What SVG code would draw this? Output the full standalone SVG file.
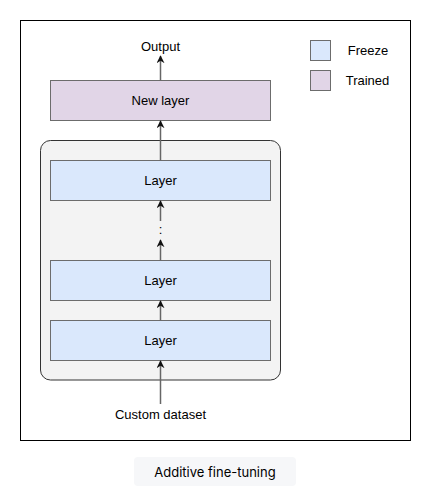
<svg xmlns="http://www.w3.org/2000/svg" width="428" height="500" viewBox="0 0 428 500">
<style>
text{font-family:"Liberation Sans",Arial,sans-serif;font-size:13px;fill:#000;text-anchor:middle;dominant-baseline:central}
.layer{fill:#dae8fc;stroke:#6c6c6c;stroke-width:1}
.trained{fill:#e1d5e7;stroke:#6c6c6c;stroke-width:1}
.edge{stroke:#666;stroke-width:1.5;fill:none;marker-end:url(#arr)}
</style>
<defs>
<marker id="arr" viewBox="0 0 10 10" refX="9" refY="5" markerWidth="8" markerHeight="8" markerUnits="userSpaceOnUse" orient="auto">
<path d="M0,0 L10,5 L0,10 L3,5 Z" fill="#111"/>
</marker>
</defs>
<rect x="0" y="0" width="428" height="500" fill="#fff"/>
<rect id="frame" x="20.5" y="20.5" width="390" height="420" fill="#fff" stroke="#000" stroke-width="1"/>
<g id="container"><rect x="40.5" y="140.5" width="240" height="239.5" rx="10" fill="#f3f3f3" stroke="#333" stroke-width="1"/></g>
<g id="new-layer"><rect class="trained" x="50.5" y="80.5" width="220" height="40"/><text x="160.5" y="100.5" font-size="11">New layer</text></g>
<g id="layer-top"><rect class="layer" x="50.5" y="160.5" width="220" height="40"/><text x="160.5" y="180.5" font-size="11">Layer</text></g>
<g id="layer-mid"><rect class="layer" x="50.5" y="260.5" width="220" height="40"/><text x="160.5" y="280.5" font-size="11">Layer</text></g>
<g id="layer-bot"><rect class="layer" x="50.5" y="320.5" width="220" height="40"/><text x="160.5" y="340.5" font-size="11">Layer</text></g>
<g id="output"><text x="160.5" y="46">Output</text></g>
<g id="dataset"><text x="160.5" y="414" font-size="14">Custom dataset</text></g>
<g id="dots"><text x="160.5" y="229">:</text></g>
<g id="legend-freeze"><rect class="layer" x="310.5" y="40.5" width="20" height="20" stroke="#333"/><text x="368" y="50.5">Freeze</text></g>
<g id="legend-trained"><rect class="trained" x="310.5" y="70.5" width="20" height="20" stroke="#333"/><text x="367.5" y="80.5">Trained</text></g>
<g id="connectors">
<line class="edge" x1="160.5" y1="80.5" x2="160.5" y2="56"/>
<line class="edge" x1="160.5" y1="160.5" x2="160.5" y2="121"/>
<line class="edge" x1="160.5" y1="221" x2="160.5" y2="201"/>
<line class="edge" x1="160.5" y1="260.5" x2="160.5" y2="240"/>
<line class="edge" x1="160.5" y1="320.5" x2="160.5" y2="301"/>
<line class="edge" x1="160.5" y1="404" x2="160.5" y2="361"/>
</g>
<g id="caption"><rect x="134" y="457" width="162" height="29" rx="4" fill="#f6f7f9"/><text x="215" y="471.5" style="font-family:Inter,'Liberation Sans',sans-serif" font-size="14">Additive fine-tuning</text></g>
</svg>
